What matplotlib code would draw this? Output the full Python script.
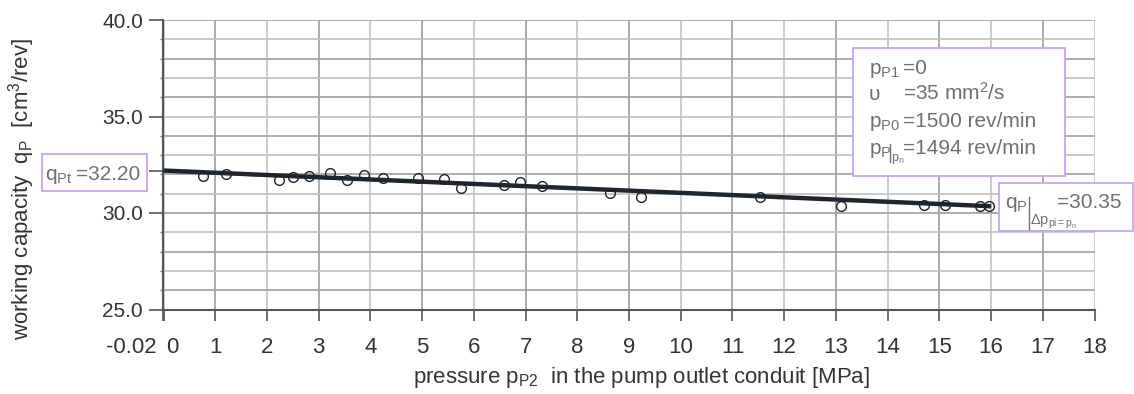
import matplotlib
matplotlib.use("Agg")
import matplotlib.pyplot as plt
from matplotlib.patches import Rectangle
from matplotlib.lines import Line2D
from matplotlib.transforms import ScaledTranslation

plt.rcParams['font.family'] = ['Liberation Sans', 'DejaVu Sans']
plt.rcParams['mathtext.fontset'] = 'custom'
plt.rcParams['mathtext.rm'] = 'Liberation Sans'
plt.rcParams['mathtext.it'] = 'Liberation Sans'
plt.rcParams['mathtext.bf'] = 'Liberation Sans:bold'

# measured points
pressure = [0.77, 1.20, 2.23, 2.50, 2.81, 3.22, 3.54, 3.88, 4.25, 4.92, 5.43, 5.76,
            6.58, 6.90, 7.31, 8.64, 9.23, 11.53, 13.10, 14.71, 15.11, 15.78, 15.96]
capacity = [31.90, 32.00, 31.73, 31.86, 31.92, 32.07, 31.69, 31.99, 31.80, 31.81, 31.74, 31.31,
            31.45, 31.59, 31.38, 31.04, 30.83, 30.83, 30.35, 30.43, 30.43, 30.35, 30.35]

# fitted line
fit_p = [0, 16]
fit_q = [32.20, 30.35]
fit2_q = [32.13, 30.33]

x_ticks = [-0.02] + list(range(0, 19))
x_labels = ['-0.02'] + [str(i) for i in range(0, 19)]
y_ticks = [25.0, 30.0, 35.0, 40.0]
y_labels = ['25.0', '30.0', '35.0', '40.0']

param_names = ['p$_{P1}$', 'υ', 'p$_{P0}$', 'p$_{P}$']
param_values = ['=0', '=35 mm$^{2}$/s', '=1500 rev/min', '=1494 rev/min']

W, H = 1134, 394
fig = plt.figure(figsize=(W / 100, H / 100), dpi=100)
ax = fig.add_axes([162.5 / W, 1 - 309.5 / H, (1094.5 - 162.5) / W, (309.5 - 20) / H])

def fx(x):
    return x / W

def fy(y):
    return 1 - y / H

ax.set_xlim(-0.02, 18)
ax.set_ylim(25, 40)

# grid
for i in range(0, 19):
    ax.axvline(i, color='#9c9c9c' if i % 2 else '#c4c4c4', lw=1.2, zorder=0)
for j in range(25, 41):
    ax.axhline(j, color='#a0a0a0' if j % 2 == 0 else '#c0c0c0', lw=1.2, zorder=0)

ax.plot(fit_p, fit2_q, color='#8a8a8a', lw=1.0, zorder=2)
ax.plot(fit_p, fit_q, color='#1e262e', lw=3.2, zorder=3, solid_capstyle='butt')
ax.plot(pressure, capacity, 'o', ms=7, mfc='none', mec='#222222', mew=1.0, zorder=4)

ax.set_xticks(x_ticks)
ax.set_xticklabels(x_labels)
ax.set_yticks(y_ticks + [32.2])
ax.set_yticklabels(y_labels + [''])
ax.set_yticks(range(25, 41), minor=True)
ax.tick_params(axis='x', length=8, width=1.2, color='#555555', pad=12, labelsize=16, labelcolor='#333333')
ax.tick_params(axis='y', length=10, width=1.2, color='#555555', pad=4, labelsize=15, labelcolor='#333333')
ax.tick_params(axis='y', which='minor', length=2, width=1, color='#777777')

lbls = ax.get_xticklabels()
lbls[0].set_ha('right')
lbls[0].set_transform(lbls[0].get_transform() + ScaledTranslation(-6 / 100, 0, fig.dpi_scale_trans))
lbls[1].set_ha('left')
lbls[1].set_transform(lbls[1].get_transform() + ScaledTranslation(3 / 100, 0, fig.dpi_scale_trans))

for s in ['top', 'right']:
    ax.spines[s].set_visible(False)
for s in ['left', 'bottom']:
    ax.spines[s].set_color('#555555')
    ax.spines[s].set_linewidth(1.5)

# axis titles
fig.text(fx(22), fy(189), 'working capacity  q$_{P}$  [cm$^{3}$/rev]', rotation=90,
         ha='center', va='center', fontsize=16, color='#333333')
fig.text(fx(641), fy(377), 'pressure p$_{P2}$  in the pump outlet conduit [MPa]',
         ha='center', va='center', fontsize=16, color='#333333')

# annotation boxes
box_col = '#c9a3f3'
txt_col = '#707070'

def box(x0, y0, x1, y1):
    fig.patches.append(Rectangle((fx(x0), fy(y1)), (x1 - x0) / W, (y1 - y0) / H,
                                 transform=fig.transFigure, facecolor='white',
                                 edgecolor=box_col, lw=1.3, zorder=10))

def bar(x, y0, y1):
    fig.lines.append(Line2D([fx(x), fx(x)], [fy(y0), fy(y1)], transform=fig.transFigure,
                            color=txt_col, lw=1.0, zorder=11))

def txt(x, y, s, size=15):
    fig.text(fx(x), fy(y), s, fontsize=size, color=txt_col, va='baseline', zorder=11)

box(41.7, 153.5, 146.7, 190.7)
txt(45, 180, 'q$_{Pt}$')
txt(76, 180, '=32.20')

box(852.5, 48.3, 1065, 176)
baselines = [73.5, 100.2, 127, 153.8]
for name, val, b in zip(param_names, param_values, baselines):
    txt(869, b, name)
    txt(903, b, val)
bar(889.5, 144, 162)
txt(891, 161, 'p$_{n}$', size=9)

box(998.7, 183.3, 1133, 231.3)
txt(1005, 208.3, 'q$_{P}$')
bar(1028.5, 197, 229)
txt(1030.5, 224.5, r'$\Delta$p$_{pi=p_{n}}$', size=10.5)
txt(1057, 208.3, '=30.35')

fig.savefig('out.png', dpi=100)
